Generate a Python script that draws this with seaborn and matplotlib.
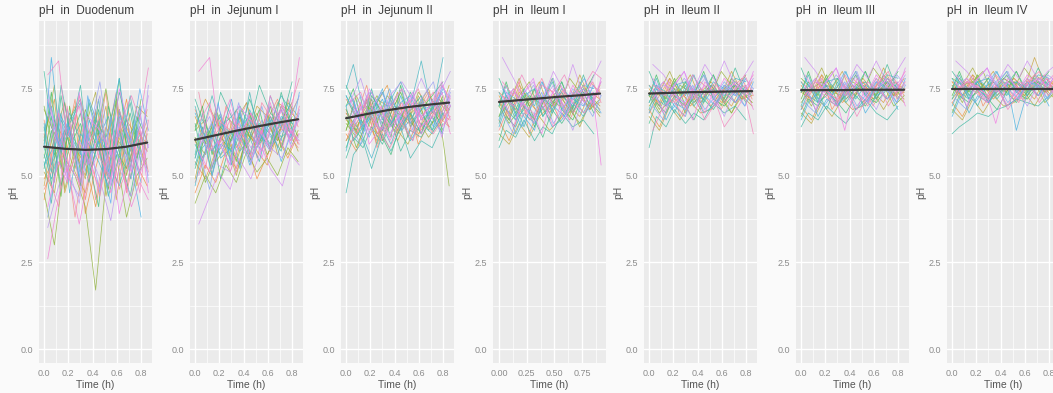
import numpy as np
import pandas as pd
import matplotlib.pyplot as plt
import seaborn as sns
from matplotlib.ticker import FormatStrFormatter, FixedLocator

regions = ["Duodenum", "Jejunum I", "Jejunum II", "Ileum I", "Ileum II", "Ileum III", "Ileum IV"]

# sampling times (h), 11 readings per subject; subjects were read on three schedules
time_a = [0.0, 0.085, 0.17, 0.255, 0.34, 0.425, 0.51, 0.595, 0.68, 0.765, 0.85]
time_b = [0.0, 0.06, 0.14, 0.21, 0.30, 0.37, 0.45, 0.53, 0.62, 0.71, 0.80]
time_c = [0.03, 0.12, 0.19, 0.29, 0.36, 0.46, 0.55, 0.62, 0.72, 0.79, 0.86]
time_ileum1_a = [0.0, 0.091, 0.182, 0.273, 0.364, 0.455, 0.546, 0.637, 0.728, 0.819, 0.91]
time_ileum1_b = [0.0, 0.065, 0.15, 0.225, 0.32, 0.395, 0.48, 0.565, 0.665, 0.76, 0.855]
time_ileum1_c = [0.03, 0.13, 0.205, 0.31, 0.385, 0.49, 0.59, 0.665, 0.77, 0.845, 0.92]

# pH readings x10, one row per subject
ph_duodenum = """
62 48 71 55 66 43 59 74 52 61 57
55 67 44 70 51 63 58 46 69 54 72
71 59 65 49 73 56 42 67 60 75 63
46 53 61 38 57 68 50 63 45 58 66
59 74 52 64 47 71 62 55 78 49 60
38 56 69 51 62 45 67 53 61 70 48
66 50 57 72 43 58 74 48 64 56 69
52 63 47 59 68 54 41 70 57 44 61
75 58 64 53 60 77 55 62 49 67 58
43 61 55 67 39 52 64 58 72 53 47
64 47 73 58 65 50 60 44 56 68 54
57 69 50 44 61 73 48 66 59 51 76
49 55 62 70 54 41 57 71 46 63 59
80 64 58 66 72 60 69 56 74 62 68
35 47 53 42 58 49 37 52 44 57 50
61 72 45 56 50 64 53 59 67 47 62
54 42 66 61 76 55 63 49 58 71 53
68 58 49 74 53 62 47 65 51 59 73
47 66 60 51 45 57 70 43 62 55 64
58 51 76 63 57 48 61 67 54 73 56
72 60 54 48 67 63 56 75 61 50 59
51 45 63 57 49 69 44 58 66 61 52
63 70 56 68 60 53 72 51 69 57 65
41 54 48 60 55 46 58 39 53 64 45
69 62 71 52 64 74 50 61 56 70 67
56 49 59 65 71 51 66 54 47 58 62
26 44 52 36 49 58 45 55 41 48 43
60 76 46 58 53 66 61 72 50 64 57
53 57 68 45 62 59 54 47 63 52 70
79 83 61 70 58 67 52 64 73 66 81
45 30 55 50 41 17 48 56 38 50 55
65 53 67 62 56 72 64 50 68 60 48
48 68 51 73 64 55 49 69 57 45 66
70 56 63 55 69 61 75 57 52 67 60
58 84 57 64 48 66 59 62 78 55 38
50 41 70 47 58 44 62 46 55 63 51
"""

ph_jejunum1 = """
60 52 67 58 63 71 55 66 60 72 64
55 64 50 61 57 53 68 59 70 58 67
66 58 71 54 68 62 57 73 63 61 74
48 57 62 66 51 59 64 55 68 62 58
63 70 56 64 60 67 61 69 57 66 71
57 46 60 53 66 56 70 61 65 59 68
69 61 55 70 58 64 59 66 72 63 60
52 59 64 49 61 68 54 62 58 70 65
61 67 58 62 71 53 66 58 63 67 73
45 53 48 57 52 60 49 56 61 55 62
65 55 62 68 56 62 72 64 59 74 63
58 64 70 59 64 58 63 70 66 60 69
54 49 57 63 55 65 57 53 62 67 59
72 66 61 74 67 70 64 76 68 65 77
50 61 53 51 59 54 62 58 55 63 60
64 72 66 60 69 61 68 60 71 69 66
59 54 63 67 53 69 56 65 62 57 70
36 44 51 46 55 49 58 52 47 56 53
67 59 68 57 64 60 70 67 58 66 72
56 68 52 65 62 57 61 54 67 61 64
62 57 60 53 70 66 55 63 69 58 62
49 63 56 60 50 62 59 68 56 64 57
70 62 73 64 67 59 74 60 65 73 68
57 51 58 69 61 55 63 57 71 62 66
63 66 54 58 66 71 60 68 61 56 63
53 60 65 55 58 64 67 59 64 69 61
80 84 63 72 61 68 62 71 58 67 84
60 56 69 62 54 63 58 65 60 71 67
47 58 61 56 63 52 66 61 67 60 74
65 71 59 66 60 68 57 64 70 63 59
42 50 45 53 48 57 51 55 50 58 54
68 63 57 61 72 60 69 62 57 67 65
58 69 64 51 59 66 62 73 64 60 70
61 48 55 67 64 58 65 56 62 68 61
55 62 50 59 57 63 53 60 66 54 63
74 57 66 63 65 56 71 67 63 70 78
"""

ph_jejunum2 = """
68 62 73 66 71 64 70 75 67 72 69
63 70 65 72 60 68 74 66 71 65 73
74 66 61 69 75 63 67 72 64 76 70
60 68 71 58 66 72 62 69 74 67 64
70 75 64 73 68 61 76 64 69 73 77
65 59 69 63 72 67 60 71 66 62 70
72 67 76 62 64 70 68 61 73 69 66
58 64 60 67 61 56 65 68 62 70 63
67 73 68 74 70 75 63 72 77 66 74
62 57 66 60 69 64 71 59 65 71 68
76 71 63 70 65 73 66 74 68 63 72
64 69 74 65 62 68 73 67 71 68 75
69 62 67 71 76 63 69 62 66 74 67
55 61 58 64 59 66 57 63 61 67 62
71 78 70 67 73 77 72 78 70 75 80
66 63 72 61 68 60 67 70 75 64 69
73 68 65 75 63 71 64 68 62 72 66
61 70 62 66 71 65 70 64 69 61 73
68 64 69 59 67 74 61 73 67 70 64
45 56 60 52 62 57 64 55 60 58 65
72 66 75 69 64 68 74 66 72 77 70
63 73 66 72 70 62 68 71 64 67 76
70 60 64 68 74 67 63 69 73 63 68
66 71 59 64 61 70 72 62 68 74 66
60 65 70 62 67 63 59 66 61 65 71
75 82 69 74 66 72 77 70 83 68 84
64 68 63 70 60 66 71 64 67 71 62
69 63 72 65 73 69 65 74 70 66 73
57 66 61 55 64 59 67 60 65 62 68
71 74 67 63 69 75 70 67 71 76 72
65 61 68 73 66 62 68 72 63 69 47
73 69 64 67 72 64 73 65 69 70 74
62 67 73 60 65 71 62 70 74 64 67
67 58 66 71 63 68 66 63 68 72 69
70 72 62 68 75 65 71 73 66 69 75
59 64 68 62 58 65 60 67 62 66 70
"""

ph_ileum1 = """
72 66 75 70 73 68 76 71 74 69 75
67 73 69 74 66 72 70 77 68 75 72
75 69 64 71 77 70 67 73 78 72 68
63 70 73 66 69 75 71 66 72 77 74
70 77 68 73 64 71 78 69 66 73 79
68 62 71 67 74 65 70 75 71 67 73
74 71 77 62 70 73 66 72 76 70 71
60 67 64 70 66 61 69 65 70 74 68
71 75 70 76 72 78 68 74 70 76 73
66 60 68 72 67 70 74 68 73 69 76
78 73 66 69 75 67 72 77 69 79 70
69 74 72 65 71 76 69 63 74 71 77
73 67 74 71 68 72 75 70 67 74 72
58 63 61 66 60 64 62 68 64 66 62
84 78 73 77 71 80 74 82 72 78 83
71 68 76 72 77 69 73 71 79 72 69
65 72 70 64 73 67 71 74 68 75 71
76 70 73 78 69 74 66 72 75 70 78
62 59 65 61 67 63 66 70 64 71 67
70 76 67 73 75 71 77 69 73 68 74
73 64 71 68 62 75 70 76 71 74 53
67 71 78 70 74 68 72 67 77 73 70
74 69 66 75 70 77 68 73 70 76 75
69 75 70 66 72 64 74 71 68 72 77
71 66 73 77 68 72 70 78 74 69 72
64 70 62 68 65 70 64 66 71 67 72
77 73 79 72 76 74 79 73 76 80 78
70 65 69 73 71 66 73 69 65 71 68
66 74 72 67 63 73 69 75 72 70 76
73 70 67 71 78 70 75 68 73 77 71
"""

ph_ileum2 = """
74 70 77 72 75 71 76 73 78 72 75
71 76 72 78 70 74 72 79 71 76 73
77 72 69 74 79 73 70 76 74 70 77
68 73 75 70 72 77 74 69 75 78 72
73 79 71 75 68 73 80 72 70 74 79
70 66 74 71 76 69 73 77 73 70 75
76 73 78 67 73 75 70 74 77 72 73
65 71 68 73 70 66 72 69 74 76 71
74 77 73 78 75 79 71 76 73 78 75
69 64 71 75 70 73 76 71 75 72 77
80 75 70 72 77 71 74 79 72 81 73
72 76 75 69 73 78 72 67 76 74 78
75 70 76 74 71 74 77 73 70 76 74
58 67 64 69 65 68 66 71 68 70 66
82 79 75 80 74 82 77 83 75 79 83
73 71 78 74 79 72 75 73 80 74 71
69 75 73 68 76 70 74 76 71 77 74
78 73 75 80 72 76 70 74 77 73 80
67 63 70 66 71 68 69 73 68 73 70
73 78 70 76 77 74 79 72 76 71 76
75 68 74 71 66 77 73 78 74 76 69
70 74 80 73 76 71 75 70 78 75 73
76 72 70 77 73 79 71 75 73 78 77
72 77 73 70 75 68 76 74 71 75 79
74 69 75 79 71 75 73 80 76 72 74
68 73 66 71 69 74 68 70 74 71 75
63 70 72 67 74 66 71 64 69 73 62
73 68 72 76 74 69 76 72 68 74 71
71 76 74 70 67 75 72 77 75 73 78
76 74 71 73 79 73 77 71 75 79 73
"""

ph_ileum3 = """
75 72 78 73 76 72 77 74 79 73 76
72 77 73 79 71 75 73 80 72 77 74
78 73 70 75 80 74 71 77 75 71 78
69 74 76 71 73 78 75 70 76 78 73
74 80 72 76 70 74 79 73 71 75 80
71 68 75 72 77 70 74 78 74 71 76
77 74 79 69 74 76 71 75 78 73 74
67 72 70 74 71 68 73 70 75 77 72
75 78 74 79 76 80 72 77 74 79 76
70 66 72 76 71 74 77 72 76 73 78
81 76 71 73 78 72 75 80 73 82 74
73 77 76 70 74 79 73 69 77 75 79
76 71 77 75 72 75 78 74 71 77 75
64 68 66 70 67 65 69 72 68 66 70
84 80 76 81 75 82 78 83 76 80 84
74 72 79 75 80 73 76 74 81 75 72
70 76 74 69 77 71 75 77 72 78 75
79 74 76 81 73 77 71 75 78 74 81
68 65 71 67 72 69 70 74 69 74 71
74 79 71 77 78 75 80 73 77 72 77
76 69 75 72 63 78 74 79 75 77 70
71 75 81 74 77 72 76 71 79 76 74
77 73 71 78 74 80 72 76 74 79 78
73 78 74 71 76 69 77 75 72 76 80
75 70 76 80 72 76 74 81 77 73 75
69 74 67 72 70 75 69 71 75 72 76
72 76 73 70 75 67 73 78 70 74 77
78 75 77 74 73 77 75 72 76 70 73
66 71 74 76 70 73 76 68 73 75 69
73 77 75 72 79 74 70 76 80 72 75
"""

ph_ileum4 = """
76 73 78 74 77 73 78 75 79 74 77
73 78 74 79 72 76 74 80 73 77 75
78 74 71 76 80 75 72 77 76 72 78
71 75 77 72 74 78 76 71 77 79 74
75 80 73 77 71 75 79 74 72 76 80
72 69 76 73 77 71 75 78 75 72 76
77 75 79 70 75 76 72 76 78 74 75
68 73 71 75 72 69 74 71 76 77 73
76 78 75 79 77 80 73 77 75 79 77
71 67 73 76 72 75 77 73 76 74 78
80 77 72 74 78 73 76 80 74 81 75
74 77 76 71 75 79 74 70 77 76 79
77 72 78 76 73 76 78 75 72 78 76
62 64 66 68 67 69 70 72 71 70 73
83 80 77 81 76 82 78 83 77 80 82
75 73 79 76 80 74 77 75 84 76 73
72 77 75 70 77 72 76 77 73 78 76
79 75 77 81 74 77 72 76 78 75 80
69 66 72 68 73 70 71 74 70 75 72
75 79 72 77 78 76 80 74 77 73 78
77 70 76 73 65 78 75 79 76 78 71
72 76 81 75 77 73 77 72 79 77 75
78 74 72 78 75 80 73 77 75 79 78
74 78 75 72 76 70 77 76 73 77 80
76 71 77 80 73 77 75 81 77 74 76
70 75 68 73 71 76 70 72 76 73 77
73 77 74 71 76 69 74 78 71 75 77
78 76 77 75 74 78 76 73 77 71 74
67 72 75 77 71 74 77 63 74 76 70
74 77 76 73 79 75 71 77 80 73 76
"""

ph_data = [ph_duodenum, ph_jejunum1, ph_jejunum2, ph_ileum1, ph_ileum2, ph_ileum3, ph_ileum4]

# smoothed trend
smooth_time_std = [0.0, 0.17, 0.34, 0.51, 0.68, 0.85]
smooth_time_ileum1 = [0.0, 0.182, 0.364, 0.546, 0.728, 0.91]
smooth_duodenum = [5.83, 5.77, 5.74, 5.76, 5.83, 5.95]
smooth_jejunum1 = [6.03, 6.16, 6.29, 6.41, 6.52, 6.62]
smooth_jejunum2 = [6.65, 6.77, 6.88, 6.97, 7.04, 7.10]
smooth_ileum1 = [7.12, 7.17, 7.22, 7.27, 7.31, 7.36]
smooth_ileum2 = [7.36, 7.38, 7.40, 7.41, 7.42, 7.43]
smooth_ileum3 = [7.46, 7.46, 7.46, 7.47, 7.47, 7.47]
smooth_ileum4 = [7.50, 7.50, 7.50, 7.50, 7.50, 7.50]
smooth_data = [smooth_duodenum, smooth_jejunum1, smooth_jejunum2, smooth_ileum1,
               smooth_ileum2, smooth_ileum3, smooth_ileum4]

sns.set_theme(style="darkgrid", rc={"axes.facecolor": "#EBEBEB", "grid.color": "white"})
plt.rcParams["font.family"] = ["Liberation Sans", "DejaVu Sans"]

fig = plt.figure(figsize=(10.53, 3.93), dpi=100, facecolor="#fafafa")
lefts = [39, 190, 341, 493, 644, 796, 947]

for k, region in enumerate(regions):
    ax = fig.add_axes([lefts[k] / 1053, 30 / 393, 113 / 1053, 342 / 393])
    vals = np.array(ph_data[k].split(), float).reshape(-1, 11) / 10
    ileum1 = region == "Ileum I"
    grids = [time_ileum1_a, time_ileum1_b, time_ileum1_c] if ileum1 else [time_a, time_b, time_c]
    st = smooth_time_ileum1 if ileum1 else smooth_time_std
    n = len(vals)
    df = pd.DataFrame({"subject": np.repeat(np.arange(n), 11),
                       "time": np.concatenate([grids[i % 3] for i in range(n)]),
                       "pH": vals.ravel()})
    order = list(np.arange(n)[::3]) + list(np.arange(n)[1::3]) + list(np.arange(n)[2::3])
    sns.lineplot(data=df, x="time", y="pH", hue="subject", hue_order=order,
                 palette=sns.husl_palette(n, l=0.7, s=0.85), estimator=None,
                 legend=False, linewidth=0.55, alpha=0.85, ax=ax)
    sns.lineplot(x=st, y=smooth_data[k], color="#3a3a3a", linewidth=1.6, ax=ax)

    ax.set_ylim(-0.4, 9.45)
    ax.yaxis.set_major_locator(FixedLocator([0, 2.5, 5, 7.5]))
    ax.yaxis.set_minor_locator(FixedLocator([1.25, 3.75, 6.25, 8.75]))
    ax.yaxis.set_major_formatter(FormatStrFormatter("%.1f"))
    if ileum1:
        ax.set_xlim(-0.054, 0.964)
        ax.xaxis.set_major_locator(FixedLocator([0, 0.25, 0.5, 0.75]))
        ax.xaxis.set_minor_locator(FixedLocator([0.125, 0.375, 0.625, 0.875]))
        ax.xaxis.set_major_formatter(FormatStrFormatter("%.2f"))
    else:
        ax.set_xlim(-0.042, 0.89)
        ax.xaxis.set_major_locator(FixedLocator([0, 0.2, 0.4, 0.6, 0.8]))
        ax.xaxis.set_minor_locator(FixedLocator([0.1, 0.3, 0.5, 0.7]))
        ax.xaxis.set_major_formatter(FormatStrFormatter("%.1f"))
    ax.grid(which="major", color="white", linewidth=1.0)
    ax.grid(which="minor", color="white", linewidth=0.5)
    ax.set_axisbelow(True)
    ax.tick_params(which="major", length=2.5, width=0.6, color="#777777",
                   labelsize=6.5, labelcolor="#8c8c8c", pad=1.5)
    ax.tick_params(which="minor", length=0)
    for s in ax.spines.values():
        s.set_visible(False)
    ax.set_title(f"pH  in  {region}", loc="left", fontsize=8.5, color="#3c3c3c", pad=5)
    ax.set_xlabel("Time (h)", fontsize=7.5, color="#555555", labelpad=2)
    ax.set_ylabel("pH", fontsize=7.5, color="#555555", labelpad=2)

fig.savefig("out.png", dpi=100, facecolor=fig.get_facecolor())
